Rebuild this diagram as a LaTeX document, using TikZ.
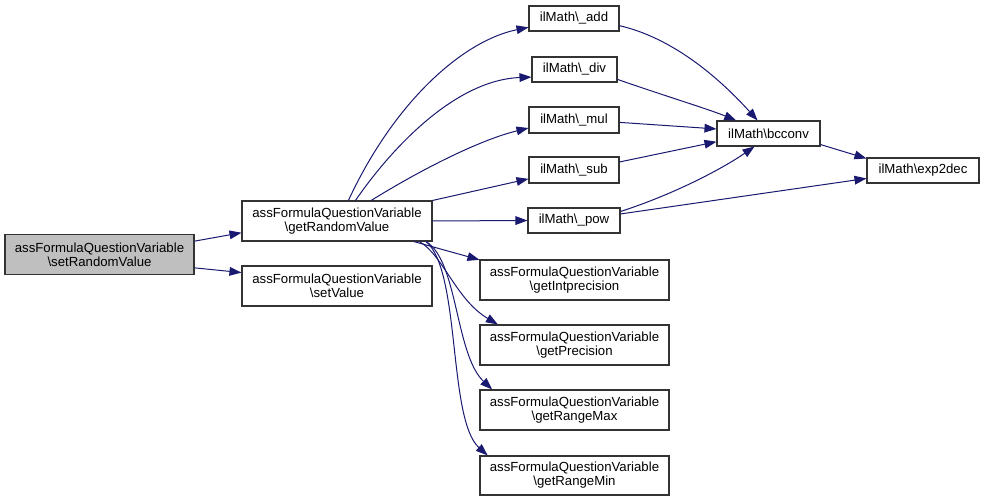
\documentclass[tikz,border=0pt]{standalone}
\usepackage{fontspec}
\setmainfont{Liberation Sans}
\usepackage{tikz}
\usetikzlibrary{arrows.meta}
\definecolor{edgeblue}{RGB}{25,25,112}
\definecolor{rootgray}{RGB}{191,191,191}
\tikzstyle{fn}=[rectangle, draw=black!80, line width=0.8pt, fill=white, align=center, inner sep=0pt, font=\fontsize{9.9}{10.5}\selectfont]
\tikzstyle{call}=[draw=edgeblue, line width=0.75pt, -{Triangle[length=9pt,width=6.5pt]}, edgeblue]

\begin{document}
\begin{tikzpicture}[x=0.75pt, y=-0.75pt]
        \useasboundingbox (0,0) rectangle (984,502);
        % caller
        \node[fn, fill=rootgray, minimum width=141.75pt, minimum height=30pt] (srv) at (99.5,254.5) {assFormulaQuestionVariable\\\textbackslash setRandomValue};
        \node[fn, minimum width=142.5pt, minimum height=30pt] (grv) at (337,221) {assFormulaQuestionVariable\\\textbackslash getRandomValue};
        \node[fn, minimum width=142.5pt, minimum height=30pt] (sv) at (337,286) {assFormulaQuestionVariable\\\textbackslash setValue};

        % ilMath
        \node[fn, minimum width=67.5pt, minimum height=18.75pt] (add) at (574,18.5) {ilMath\textbackslash\_add};
        \node[fn, minimum width=63.75pt, minimum height=18.75pt] (div) at (574.5,69.5) {ilMath\textbackslash\_div};
        \node[fn, minimum width=67.5pt, minimum height=19.5pt] (mul) at (574,120) {ilMath\textbackslash\_mul};
        \node[fn, minimum width=67.5pt, minimum height=19.5pt] (sub) at (574,170) {ilMath\textbackslash\_sub};
        \node[fn, minimum width=69pt, minimum height=18.75pt] (pow) at (574,220.5) {ilMath\textbackslash\_pow};
        \node[fn, minimum width=77.25pt, minimum height=18.75pt] (bcconv) at (768.5,133.5) {ilMath\textbackslash bcconv};
        \node[fn, minimum width=84pt, minimum height=18.75pt] (e2d) at (923,170.5) {ilMath\textbackslash exp2dec};

        % getters
        \node[fn, minimum width=141.75pt, minimum height=30pt] (gip) at (574.5,280) {assFormulaQuestionVariable\\\textbackslash getIntprecision};
        \node[fn, minimum width=141.75pt, minimum height=30pt] (gp) at (574.5,345) {assFormulaQuestionVariable\\\textbackslash getPrecision};
        \node[fn, minimum width=141.75pt, minimum height=30pt] (grmax) at (574.5,410) {assFormulaQuestionVariable\\\textbackslash getRangeMax};
        \node[fn, minimum width=141.75pt, minimum height=29.25pt] (grmin) at (574.5,475.5) {assFormulaQuestionVariable\\\textbackslash getRangeMin};

        % calls
        \draw[call] (srv.8.7) -- (grv.187.8);
        \draw[call] (srv.-8.1) -- (sv.172.2);
        \draw[call] (grv.61) .. controls +(47,-101) and +(-64,13) .. (add.191);
        \draw[call] (grv.48) .. controls +(35,-51) and +(-77,3) .. (div.190);
        \draw[call] (grv.31) .. controls +(50,-31) and +(-49,12) .. (mul.190);
        \draw[call] (grv.north east) -- (sub.191);
        \draw[call] (grv.east) -- (pow.west);
        \draw[call] (add.-9.5) .. controls +(61,14) and +(-28,-31) .. (bcconv.130);
        \draw[call] (div.-13.9) .. controls +(43,15) and +(-27,-11) .. (bcconv.158);
        \draw[call] (mul.-3.8) -- (bcconv.175);
        \draw[call] (sub.10) -- (bcconv.189.5);
        \draw[call] (pow.11.7) .. controls +(50,-16) and +(-35,24) .. (bcconv.223);
        \draw[call] (pow.8) -- (e2d.188.6);
        \draw[call] (bcconv.-12.6) -- (e2d.168.4);
        \draw[call] (grv.-15.3) -- (gip.168.6);
        \draw[call] (grv.-14.2) .. controls +(24,14) and +(-42,-25) .. (gp.165.5);
        \draw[call] (grv.-13.9) .. controls +(32,19) and +(-37,-35) .. (grmax.166.4);
        \draw[call] (grv.-13.5) .. controls +(35,29) and +(-40,-36) .. (grmin.167);
\end{tikzpicture}
\end{document}
